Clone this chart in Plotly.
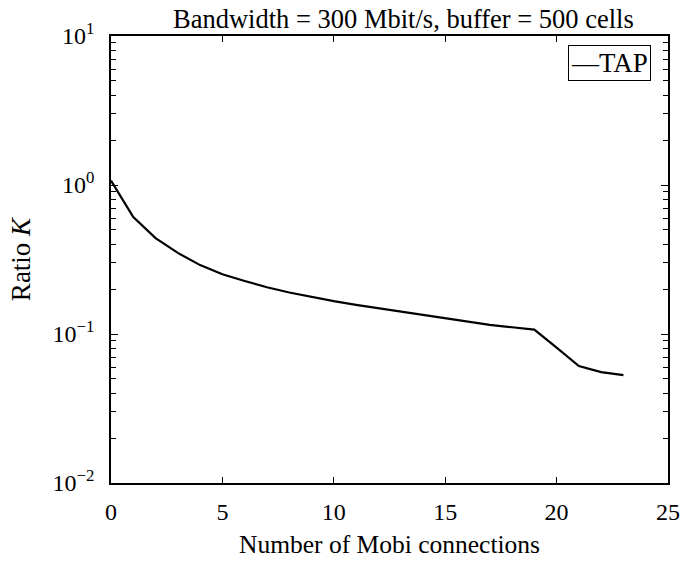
import plotly.graph_objects as go

# values
mobi_connections = list(range(0, 24))
ratio_k = [1.07, 0.61, 0.44, 0.35, 0.29, 0.252, 0.227, 0.206, 0.19, 0.177,
           0.166, 0.157, 0.149, 0.141, 0.134, 0.128, 0.121, 0.115, 0.111, 0.107,
           0.081, 0.061, 0.0555, 0.053]

decades = [-2, -1, 0, 1]
decade_labels = ['10<sup>\u22122</sup>', '10<sup>\u22121</sup>', '10<sup>0</sup>', '10<sup>1</sup>']
minor_vals = [m * 10 ** d for d in decades[:-1] for m in range(2, 10)]

serif = 'Liberation Serif, Times New Roman, serif'

fig = go.Figure()

fig.add_trace(
    go.Scatter(
        x=mobi_connections,
        y=ratio_k,
        mode='lines',
        name='TAP',
        line=dict(color='black', width=2.2),
        hoverinfo='skip',
        showlegend=False
    )
)

# boxed legend like the original ("—TAP")
fig.add_annotation(
    text='\u2014TAP', x=0.97, xref='paper', xanchor='right',
    y=0.98, yref='paper', yanchor='top', showarrow=False,
    bordercolor='black', borderwidth=1, borderpad=2, bgcolor='white',
    font=dict(family=serif, size=27, color='black')
)

fig.update_layout(
    width=690, height=564,
    margin=dict(l=111, r=10, t=36, b=77),
    paper_bgcolor='white', plot_bgcolor='white',
    font=dict(family=serif, size=24, color='black'),
    title=dict(text='Bandwidth = 300 Mbit/s, buffer = 500 cells',
               x=0.525, xref='paper', xanchor='center',
               y=0.966, yref='container', yanchor='middle',
               font=dict(family=serif, size=26.5, color='black')),
)

fig.update_xaxes(
    range=[0, 25], tickvals=[0, 5, 10, 15, 20, 25],
    ticks='inside', ticklen=6, tickcolor='black', tickwidth=1,
    showline=True, linecolor='black', linewidth=1.5, mirror='ticks',
    showgrid=False, zeroline=False, ticklabelstandoff=6,
    title=dict(text='Number of Mobi connections', standoff=12,
               font=dict(family=serif, size=25.5))
)

fig.update_yaxes(
    type='log', range=[-2, 1],
    tickvals=[10 ** d for d in decades], ticktext=decade_labels,
    ticks='inside', ticklen=7, tickcolor='black', tickwidth=1,
    minor=dict(tickvals=minor_vals, ticks='inside', ticklen=5, tickwidth=1,
               tickcolor='black', showgrid=False),
    showline=True, linecolor='black', linewidth=1.5, mirror='ticks',
    showgrid=False, zeroline=False, ticklabelstandoff=10,
    title=dict(text='Ratio <i>K</i>', standoff=14,
               font=dict(family=serif, size=27))
)

fig.write_html('out.html', config={'displayModeBar': False},
               post_script="document.body.style.margin='0';")
